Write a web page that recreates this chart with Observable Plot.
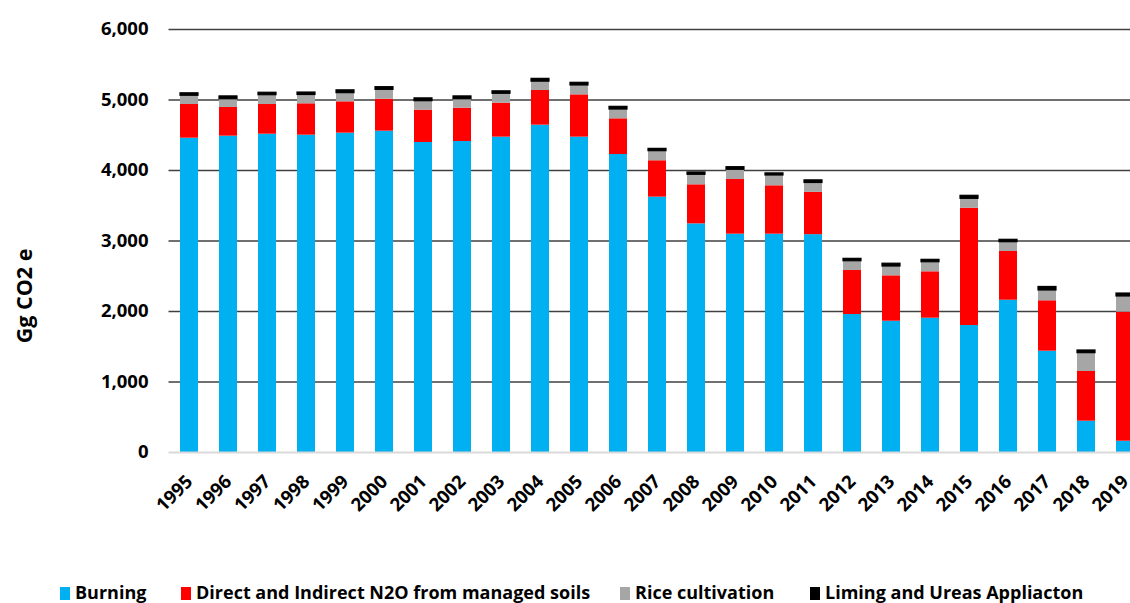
<!DOCTYPE html>
<html><head><meta charset="utf-8">
<script src="https://cdn.jsdelivr.net/npm/d3@7"></script>
<script src="https://cdn.jsdelivr.net/npm/@observablehq/plot@0.6"></script>
<style>
html,body{margin:0;padding:0;background:#fff;overflow:hidden;}
#wrap{position:relative;width:1130px;height:603px;overflow:hidden;font-family:"Open Sans",sans-serif;font-weight:700;color:#000;}
#chart{position:absolute;left:0;top:0;width:1160px;}
#chart svg{max-width:none !important;}
.ylabel{position:absolute;left:24px;top:296px;transform:translate(-50%,-50%) rotate(-90deg);font-size:21.5px;line-height:22px;white-space:nowrap;}
.item{position:absolute;top:583px;height:20px;font-size:18px;line-height:18px;white-space:nowrap;}
.sw{position:absolute;left:0;top:4px;width:10px;height:13px;}
.lt{position:absolute;left:15px;top:0;}
</style>
</head>
<body>
<div id="wrap">
  <div id="chart"></div>
  <div class="ylabel">Gg CO2 e</div>
  <div id="legend"></div>
</div>
<script>
const years = ["1995","1996","1997","1998","1999","2000","2001","2002","2003","2004","2005","2006","2007","2008","2009","2010","2011","2012","2013","2014","2015","2016","2017","2018","2019"];
const burning = [4458,4487,4515,4501,4530,4558,4397,4411,4473,4643,4473,4227,3622,3243,3097,3097,3090,1957,1862,1905,1801,2160,1437,444,160];
const n2o     = [478,407,421,445,444,453,459,473,482,492,600,506,516,554,775,686,600,625,644,658,1664,691,715,705,1830];
const rice    = [124,117,132,125,123,133,127,127,133,125,133,132,136,142,138,146,133,131,132,136,133,132,146,260,223];
const liming  = [35,40,35,35,40,38,40,40,35,40,38,38,33,33,37,30,37,34,40,34,43,34,50,38,42];
const seriesNames = ["Burning","Direct and Indirect N2O from managed soils","Rice cultivation","Liming and Ureas Appliacton"];
const seriesColors = ["#00B0F0","#FF0000","#A6A6A6","#000000"];
const yTicks = [0,1000,2000,3000,4000,5000,6000];

const seriesValues = [burning, n2o, rice, liming];
const rows = [];
years.forEach((yr, i) => {
  seriesNames.forEach((s, k) => rows.push({year: yr, series: s, value: seriesValues[k][i]}));
});

const W = 1160, H = 560;
const chart = Plot.plot({
  width: W,
  height: H,
  marginLeft: 168.5,
  marginRight: W - 1144.7,
  marginTop: 29,
  marginBottom: H - 452,
  style: {fontFamily: "'Open Sans', sans-serif", fontWeight: 700, fontSize: "18.5px", color: "#000", background: "#fff", overflow: "visible", maxWidth: "none"},
  x: {type: "band", domain: years, paddingInner: 0.54, paddingOuter: 0.27, label: null},
  y: {domain: [0, 6000], label: null},
  color: {domain: seriesNames, range: seriesColors},
  marks: [
    Plot.ruleY(yTicks.filter(d => d > 0), {stroke: "#404040", strokeWidth: 1.6}),
    Plot.barY(rows, Plot.stackY({
      x: "year", y: "value", z: "series", fill: "series",
      stroke: d => d.series === seriesNames[3] ? "#000" : "none",
      strokeWidth: 1.2, rx: 0
    })),
    Plot.ruleY([0], {stroke: "#d9d9d9", strokeWidth: 2}),
    Plot.axisY({ticks: yTicks, tickFormat: d3.format(","), tickSize: 0, tickPadding: 20.5, fontSize: "18.5px", label: null}),
    Plot.axisX({tickSize: 0, tickPadding: 26, tickRotate: -45, fontSize: "18.5px", label: null})
  ]
});
chart.style.maxWidth = "none";
document.getElementById("chart").appendChild(chart);

const legendLefts = [60, 181, 620, 810];
const legend = document.getElementById("legend");
seriesNames.forEach((s, k) => {
  const it = document.createElement("div");
  it.className = "item";
  it.style.left = legendLefts[k] + "px";
  it.innerHTML = `<span class="sw" style="background:${seriesColors[k]}"></span><span class="lt"></span>`;
  it.querySelector(".lt").textContent = s;
  legend.appendChild(it);
});
</script>
</body></html>
